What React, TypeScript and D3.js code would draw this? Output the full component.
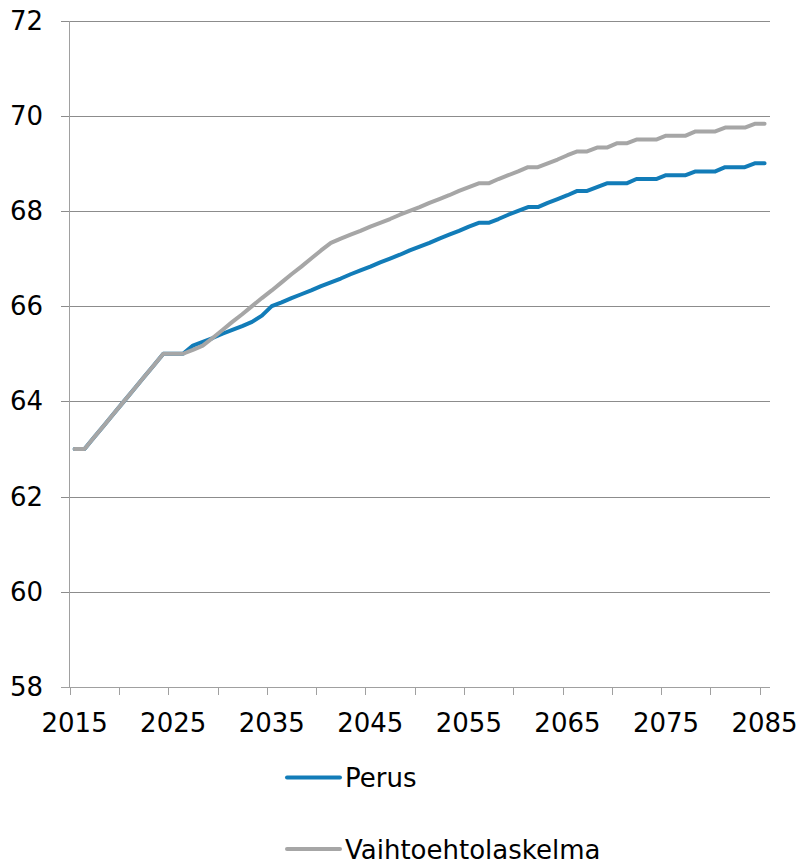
import React, { useEffect } from "react";
import * as d3 from "d3";

const startYear = 2015;
const endYear = 2085;
const years: number[] = d3.range(startYear, endYear + 1);

const perus: number[] = [
  63, 63, 63.25, 63.5, 63.75, 64, 64.25, 64.5, 64.75, 65,
  65, 65, 65.17, 65.25, 65.33, 65.42, 65.5, 65.58, 65.67, 65.8,
  66, 66.08, 66.17, 66.25, 66.33, 66.42, 66.5, 66.58, 66.67, 66.75,
  66.83, 66.92, 67, 67.08, 67.17, 67.25, 67.33, 67.42, 67.5, 67.58,
  67.67, 67.75, 67.75, 67.83, 67.92, 68, 68.08, 68.08, 68.17, 68.25,
  68.33, 68.42, 68.42, 68.5, 68.58, 68.58, 68.58, 68.67, 68.67, 68.67,
  68.75, 68.75, 68.75, 68.83, 68.83, 68.83, 68.92, 68.92, 68.92, 69,
  69,
];

const vaihtoehto: number[] = [
  63, 63, 63.25, 63.5, 63.75, 64, 64.25, 64.5, 64.75, 65,
  65, 65, 65.08, 65.17, 65.33, 65.5, 65.67, 65.83, 66, 66.17,
  66.33, 66.5, 66.67, 66.83, 67, 67.17, 67.33, 67.42, 67.5, 67.58,
  67.67, 67.75, 67.83, 67.92, 68, 68.08, 68.17, 68.25, 68.33, 68.42,
  68.5, 68.58, 68.58, 68.67, 68.75, 68.83, 68.92, 68.92, 69, 69.08,
  69.17, 69.25, 69.25, 69.33, 69.33, 69.42, 69.42, 69.5, 69.5, 69.5,
  69.58, 69.58, 69.58, 69.67, 69.67, 69.67, 69.75, 69.75, 69.75, 69.83,
  69.83,
];

const yTicks: number[] = [58, 60, 62, 64, 66, 68, 70, 72];
const xLabelYears: number[] = [2015, 2025, 2035, 2045, 2055, 2065, 2075, 2085];
const seriesNames: string[] = ["Perus", "Vaihtoehtolaskelma"];
const seriesColors: string[] = ["#127CB8", "#A6A6A6"];

const W = 801;
const H = 862;
const FONT = "'DejaVu Sans', Verdana, sans-serif";
const FS = 26;

export default function App() {
  useEffect(() => {
    document.body.style.margin = "0";
  }, []);

  const x = d3
    .scaleBand<number>()
    .domain(years)
    .range([69.7, 769.5])
    .paddingInner(0)
    .paddingOuter(0);
  const bw = x.bandwidth();
  const cx = (yr: number) => (x(yr) as number) + bw / 2;

  const y = d3.scaleLinear().domain([58, 72]).range([687, 20.5]);

  const line = d3
    .line<number>()
    .x((_, i) => cx(years[i]))
    .y((v) => y(v));

  const gridColor = "#8C8C8C";
  const axisColor = "#A0A0A0";
  const tickYears = years.filter((yr) => (yr - startYear) % 5 === 0);

  const series = [perus, vaihtoehto];

  return (
    <svg
      width={W}
      height={H}
      style={{ display: "block", position: "absolute", left: 0, top: 0 }}
      fontFamily={FONT}
    >
      <rect x={0} y={0} width={W} height={H} fill="#ffffff" />
      {yTicks.map((t) => (
        <g key={t}>
          <line
            x1={61}
            x2={769.5}
            y1={Math.round(y(t)) + 0.5}
            y2={Math.round(y(t)) + 0.5}
            stroke={t === 58 ? axisColor : gridColor}
            strokeWidth={1}
            shapeRendering="crispEdges"
          />
          <text
            x={43}
            y={y(t)}
            dy="0.35em"
            textAnchor="end"
            fontSize={FS}
            fill="#000"
          >
            {t}
          </text>
        </g>
      ))}
      <line
        x1={69.5}
        x2={69.5}
        y1={y(72)}
        y2={y(58)}
        stroke={axisColor}
        strokeWidth={1}
        shapeRendering="crispEdges"
      />
      {tickYears.map((yr) => {
        const xx = Math.round(x(yr) as number) + 0.5;
        return (
          <line
            key={yr}
            x1={xx}
            x2={xx}
            y1={y(58)}
            y2={y(58) + 8}
            stroke={axisColor}
            strokeWidth={1}
            shapeRendering="crispEdges"
          />
        );
      })}
      {xLabelYears.map((yr) => (
        <text
          key={yr}
          x={cx(yr)}
          y={732}
          textAnchor="middle"
          fontSize={FS}
          fill="#000"
        >
          {yr}
        </text>
      ))}
      {series.map((s, i) => (
        <path
          key={i}
          d={line(s) || ""}
          fill="none"
          stroke={seriesColors[i]}
          strokeWidth={4}
          strokeLinejoin="round"
          strokeLinecap="round"
        />
      ))}
      {seriesNames.map((name, i) => {
        const ly = i === 0 ? 777.5 : 849;
        return (
          <g key={name}>
            <line
              x1={287}
              x2={340}
              y1={ly}
              y2={ly}
              stroke={seriesColors[i]}
              strokeWidth={4}
              strokeLinecap="round"
            />
            <text x={345} y={ly + 9.5} fontSize={FS} fill="#000">
              {name}
            </text>
          </g>
        );
      })}
    </svg>
  );
}
